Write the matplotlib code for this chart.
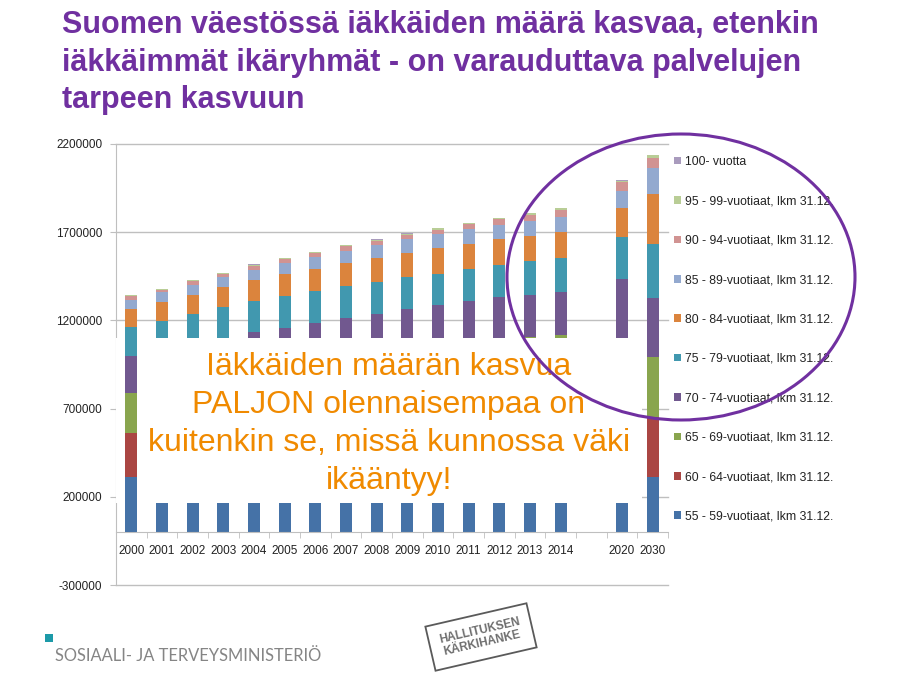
import numpy as np
import matplotlib.pyplot as plt
from matplotlib.patches import Ellipse, Rectangle, Patch
from matplotlib import ticker

# Väestö ikäryhmittäin (tuhansina), luettu kuvasta
years = ['2000', '2001', '2002', '2003', '2004', '2005', '2006', '2007', '2008',
         '2009', '2010', '2011', '2012', '2013', '2014', '2020', '2030']
a55 = [311, 325, 338, 350, 360, 368, 375, 378, 380, 378, 375, 372, 370, 368, 365, 340, 311]
a60 = [251, 265, 280, 295, 322, 332, 345, 362, 375, 388, 400, 398, 395, 388, 380, 362, 340]
a65 = [227, 230, 232, 235, 239, 243, 248, 255, 263, 274, 288, 308, 332, 350, 372, 390, 342]
a70 = [209, 210, 211, 212, 213, 214, 215, 217, 220, 223, 226, 230, 234, 238, 242, 340, 334]
a75 = [163, 166, 177, 182, 174, 183, 182, 183, 182, 181, 176, 183, 183, 191, 194, 242, 308]
a80 = [102, 108, 104, 113, 123, 123, 126, 128, 133, 138, 145, 142, 145, 143, 146, 162, 283]
a85 = [55, 55, 59, 59, 57, 60, 66, 70, 72, 77, 79, 83, 83, 85, 90, 99, 145]
a90 = [20, 15, 20, 17, 22, 25, 25, 26, 27, 27, 25, 28, 30, 36, 38, 49, 60]
a95 = [5, 5, 6, 6, 6, 6, 6, 6, 6, 6, 7, 7, 8, 8, 8, 9, 14]
a100 = [1, 1, 1, 1, 1, 1, 1, 1, 1, 1, 1, 1, 1, 1, 1, 1, 2]

series_labels = ['55 - 59-vuotiaat, lkm 31.12.', '60 - 64-vuotiaat, lkm 31.12.',
                 '65 - 69-vuotiaat, lkm 31.12.', '70 - 74-vuotiaat, lkm 31.12.',
                 '75 - 79-vuotiaat, lkm 31.12.', '80 - 84-vuotiaat, lkm 31.12.',
                 '85 - 89-vuotiaat, lkm 31.12.', '90 - 94-vuotiaat, lkm 31.12.',
                 '95 - 99-vuotiaat, lkm 31.12.', '100- vuotta']
series = [a55, a60, a65, a70, a75, a80, a85, a90, a95, a100]
colors = ['#4572A7', '#AA4643', '#89A54E', '#71588F', '#4198AF',
          '#DB843D', '#93A9CF', '#D19392', '#B9CD96', '#A99BBD']

# category slots: one empty slot between 2014 and 2020
slot_labels = years[:15] + [''] + years[15:]
bar_pos = np.array(list(range(15)) + [16, 17])

W, H = 901, 679
plt.rcParams['font.family'] = ['Liberation Sans', 'DejaVu Sans']
plt.rcParams['axes.unicode_minus'] = False


def fx(px):
    return px / W


def fy(py):
    return 1 - py / H


fig = plt.figure(figsize=(9.01, 6.79), dpi=100)
ax = fig.add_axes([fx(116), fy(585), fx(668) - fx(116), fy(144) - fy(585)])

bottom = np.zeros(len(years))
for vals, col, lab in zip(series, colors, series_labels):
    v = np.array(vals) * 1000
    z = np.where(np.isin(bar_pos, [0, 17]), 4, 2)
    for i in range(len(years)):
        ax.bar(bar_pos[i], v[i], bottom=bottom[i], width=0.39, color=col,
               zorder=z[i], linewidth=0)
    bottom += v

# white text box covering the middle of the chart
ax.add_patch(Rectangle((-0.5, 166000), 17.15, 932000, facecolor='white',
                       edgecolor='none', zorder=3))

ax.set_xlim(-0.5, 17.5)
ax.set_ylim(-300000, 2200000)
ax.set_yticks(np.arange(-300000, 2200001, 500000))
ax.yaxis.set_major_formatter(ticker.StrMethodFormatter('{x:.0f}'))
ax.set_xticks(np.arange(18))
ax.set_xticklabels(slot_labels)
ax.set_xticks(np.arange(-0.5, 18, 1), minor=True)
ax.grid(axis='y', color='#BFBFBF', linewidth=1, clip_on=False)
ax.set_axisbelow(True)
for s in ['top', 'right']:
    ax.spines[s].set_visible(False)
ax.spines['bottom'].set_position(('data', 0))
ax.spines['left'].set_color('#BFBFBF')
ax.spines['bottom'].set_color('#BFBFBF')
ax.tick_params(axis='x', which='major', length=0, pad=9, labelsize=8.5, colors='#222222')
ax.tick_params(axis='x', which='minor', length=4, color='#BFBFBF', direction='out')
ax.tick_params(axis='y', length=4, color='#BFBFBF', pad=6, labelsize=8.5, labelcolor='#222222')

# legend (reverse order, 100- at top)
handles = [Patch(facecolor=c, edgecolor='none', label=l) for c, l in zip(colors, series_labels)][::-1]
fig.legend(handles=handles, loc='upper left', bbox_to_anchor=(fx(674), fy(156)),
           frameon=False, fontsize=8.8, labelspacing=2.24, handlelength=0.58,
           handleheight=0.58, handletextpad=0.35, borderpad=0, borderaxespad=0,
           labelcolor='#222222')

# title
title_lines = ['Suomen väestössä iäkkäiden määrä kasvaa, etenkin',
               'iäkkäimmät ikäryhmät - on varauduttava palvelujen',
               'tarpeen kasvuun']
for line, base in zip(title_lines, [33, 70.5, 108]):
    fig.text(fx(62), fy(base), line, fontsize=22, fontweight='bold',
             color='#7030A0', va='baseline', ha='left')

# message in box
msg_lines = ['Iäkkäiden määrän kasvua', 'PALJON olennaisempaa on',
             'kuitenkin se, missä kunnossa väki', 'ikääntyy!']
for line, base in zip(msg_lines, [375, 413, 451, 489]):
    fig.text(fx(389), fy(base), line, fontsize=23, color='#F08A00',
             va='baseline', ha='center', zorder=5)

# purple ellipse highlight
fig.patches.append(Ellipse((fx(681), fy(277)), 348 / W, 286 / H,
                           transform=fig.transFigure, fill=False,
                           edgecolor='#7030A0', linewidth=2.2, zorder=10))

# footer
fig.patches.append(Rectangle((fx(45), fy(642)), 8 / W, 8 / H, transform=fig.transFigure,
                             facecolor='#1C9AA8', edgecolor='none'))
fig.text(fx(55), fy(661), 'SOSIAALI- JA TERVEYSMINISTERIÖ', fontsize=11.9,
         color='#858585', family='Lato', va='baseline', ha='left')
fig.text(fx(481), fy(637), 'HALLITUKSEN\nKÄRKIHANKE', fontsize=8.5, fontweight='bold',
         color='#6E6E6E', ha='center', va='center', rotation=13, linespacing=1.0,
         bbox=dict(boxstyle='square,pad=0.9', facecolor='none', edgecolor='#5A5A5A',
                   linewidth=1.3))

fig.savefig('out.png', dpi=100)
